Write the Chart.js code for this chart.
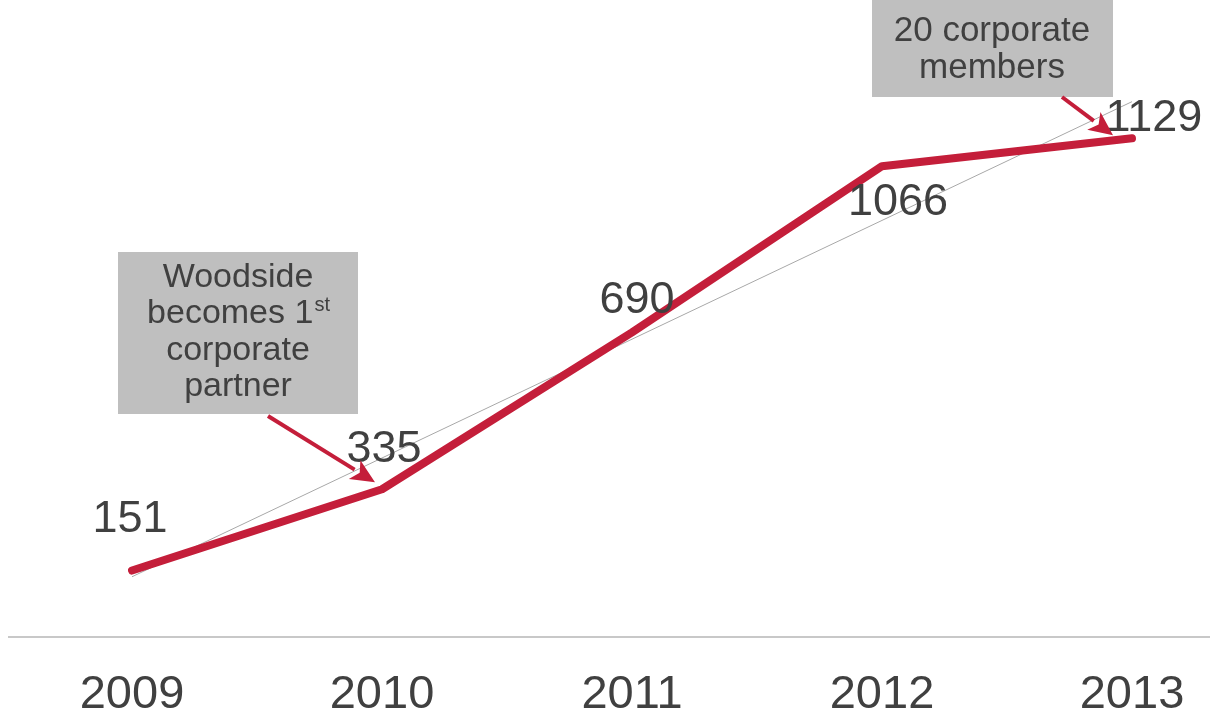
<!DOCTYPE html>
<html>
<head>
<meta charset="utf-8">
<script src="https://cdn.jsdelivr.net/npm/chart.js@4/dist/chart.umd.min.js"></script>
<style>
  html, body { margin: 0; padding: 0; background: #ffffff; }
  #wrap { position: relative; width: 1210px; height: 719px; }
</style>
</head>
<body>
<div id="wrap"><canvas id="c" width="1210" height="719"></canvas></div>
<script>
// ---- data ----
const years = [2009, 2010, 2011, 2012, 2013];
const members = [151, 335, 690, 1066, 1129];
const tickLabels = ['2009', '2010', '2011', '2012', '2013'];
const trendYears = [2009, 2013];
const trendValues = [137, 1212];
const noteWoodside = ['Woodside', 'becomes 1', 'corporate', 'partner'];
const noteMembers = ['20 corporate', 'members'];

// ---- styling (not data) ----
const RED = '#C41E3A';
const TEXT = '#404040';
const labelOffsets = [[-2, -51], [2, -40], [5, -32], [16, 36], [22, -20]];

function drawArrow(ctx, x1, y1, x2, y2) {
  const ang = Math.atan2(y2 - y1, x2 - x1);
  const head = 24, half = 11;
  const bx = x2 - head * Math.cos(ang), by = y2 - head * Math.sin(ang);
  ctx.save();
  ctx.strokeStyle = RED; ctx.fillStyle = RED; ctx.lineWidth = 4; ctx.lineCap = 'butt';
  ctx.beginPath(); ctx.moveTo(x1, y1); ctx.lineTo(bx, by); ctx.stroke();
  ctx.beginPath();
  ctx.moveTo(x2, y2);
  ctx.lineTo(bx + half * Math.sin(ang), by - half * Math.cos(ang));
  ctx.lineTo(bx + 6 * Math.cos(ang), by + 6 * Math.sin(ang));
  ctx.lineTo(bx - half * Math.sin(ang), by + half * Math.cos(ang));
  ctx.closePath(); ctx.fill();
  ctx.restore();
}

const overlay = {
  id: 'overlay',
  afterDatasetsDraw(chart) {
    const ctx = chart.ctx;
    const xs = chart.scales.x, ys = chart.scales.y;
    ctx.save();
    // data labels
    ctx.font = '45px "Liberation Sans", Arial, sans-serif';
    ctx.fillStyle = TEXT;
    ctx.textAlign = 'center';
    ctx.textBaseline = 'middle';
    members.forEach((v, i) => {
      const px = xs.getPixelForValue(years[i]);
      const py = ys.getPixelForValue(v);
      ctx.fillText(String(v), px + labelOffsets[i][0], py + labelOffsets[i][1]);
    });

    // annotation box 1
    ctx.fillStyle = '#BFBFBF';
    ctx.fillRect(118, 252, 240, 162);
    ctx.fillStyle = TEXT;
    ctx.font = '34px "Liberation Sans", Arial, sans-serif';
    const cx1 = 238;
    const lines1Y = [278, 314, 351, 387];
    noteWoodside.forEach((t, i) => {
      if (i === 1) {
        ctx.font = '34px "Liberation Sans", Arial, sans-serif';
        const w1 = ctx.measureText(t).width;
        ctx.font = '20px "Liberation Sans", Arial, sans-serif';
        const w2 = ctx.measureText('st').width;
        const start = cx1 - (w1 + w2) / 2;
        ctx.textAlign = 'left';
        ctx.font = '34px "Liberation Sans", Arial, sans-serif';
        ctx.fillText(t, start, lines1Y[i]);
        ctx.font = '20px "Liberation Sans", Arial, sans-serif';
        ctx.fillText('st', start + w1 + 1, lines1Y[i] - 9);
        ctx.textAlign = 'center';
        ctx.font = '34px "Liberation Sans", Arial, sans-serif';
      } else {
        ctx.fillText(t, cx1, lines1Y[i]);
      }
    });

    // annotation box 2
    ctx.fillStyle = '#BFBFBF';
    ctx.fillRect(872, 0, 241, 97);
    ctx.fillStyle = TEXT;
    ctx.font = '35px "Liberation Sans", Arial, sans-serif';
    ctx.fillText(noteMembers[0], 992, 31);
    ctx.fillText(noteMembers[1], 992, 68);
    ctx.restore();

    // arrows, anchored on data points
    const p2010x = xs.getPixelForValue(years[1]), p2010y = ys.getPixelForValue(members[1]);
    drawArrow(ctx, 268, 416, p2010x - 7, p2010y - 7);
    const p2013x = xs.getPixelForValue(years[4]), p2013y = ys.getPixelForValue(members[4]);
    drawArrow(ctx, 1062, 97, p2013x - 19, p2013y - 3);
  }
};

new Chart(document.getElementById('c'), {
  type: 'line',
  data: {
    datasets: [
      {
        label: 'Trend',
        data: trendYears.map((y, i) => ({ x: y, y: trendValues[i] })),
        borderColor: '#A8A8A8',
        borderWidth: 1,
        pointRadius: 0,
        tension: 0,
        order: 2
      },
      {
        label: 'Members',
        data: years.map((y, i) => ({ x: y, y: members[i] })),
        borderColor: RED,
        borderWidth: 8,
        borderCapStyle: 'round',
        borderJoinStyle: 'round',
        pointRadius: 0,
        tension: 0,
        order: 1
      }
    ]
  },
  options: {
    responsive: false,
    animation: false,
    layout: { padding: { left: 9, right: 0, top: 0, bottom: -26 } },
    plugins: { legend: { display: false }, tooltip: { enabled: false } },
    scales: {
      x: {
        type: 'linear',
        min: 2008.508,
        max: 2013.312,
        grid: { display: false },
        border: { display: true, color: '#C8C8C8', width: 2 },
        afterBuildTicks(scale) { scale.ticks = years.map(v => ({ value: v })); },
        ticks: {
          autoSkip: false,
          maxRotation: 0,
          padding: 24,
          color: TEXT,
          font: { family: '"Liberation Sans", Arial, sans-serif', size: 47, lineHeight: 1.1 },
          callback: (v) => tickLabels[years.indexOf(v)] ?? ''
        }
      },
      y: {
        display: false,
        min: 0,
        max: 1442
      }
    }
  },
  plugins: [overlay]
});
</script>
</body>
</html>
